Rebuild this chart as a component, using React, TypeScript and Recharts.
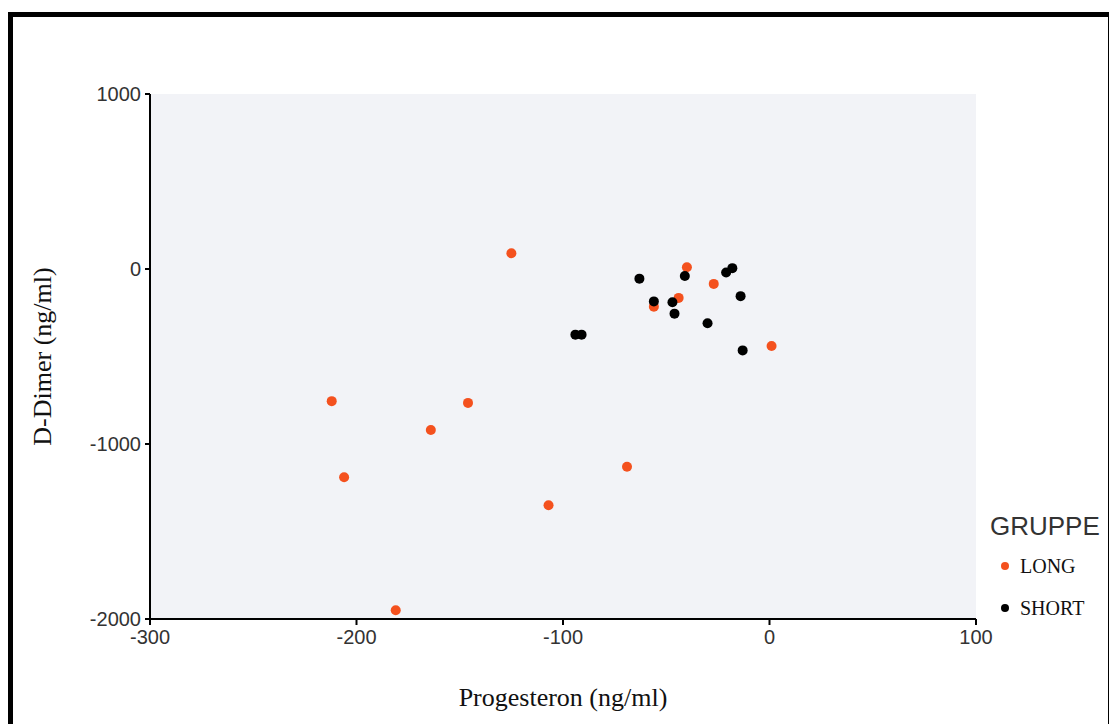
import React from 'react';
import { ScatterChart, Scatter, XAxis, YAxis, CartesianGrid } from 'recharts';

// --- axis ticks ---
const xTicks = [-300, -200, -100, 0, 100];
const yTicks = [-2000, -1000, 0, 1000];

// --- Progesteron (x) vs D-Dimer (y) per group ---
const longPoints = [
  { x: -125, y: 90 },
  { x: -40, y: 10 },
  { x: -27, y: -85 },
  { x: -44, y: -165 },
  { x: -56, y: -215 },
  { x: 1, y: -440 },
  { x: -212, y: -755 },
  { x: -146, y: -765 },
  { x: -164, y: -920 },
  { x: -206, y: -1190 },
  { x: -69, y: -1130 },
  { x: -107, y: -1350 },
  { x: -181, y: -1950 },
];

const shortPoints = [
  { x: -63, y: -55 },
  { x: -41, y: -40 },
  { x: -21, y: -20 },
  { x: -18, y: 5 },
  { x: -14, y: -155 },
  { x: -56, y: -185 },
  { x: -47, y: -190 },
  { x: -46, y: -255 },
  { x: -30, y: -310 },
  { x: -94, y: -375 },
  { x: -91, y: -375 },
  { x: -13, y: -465 },
];

const groups = [
  { name: 'LONG', color: '#f4511e', data: longPoints },
  { name: 'SHORT', color: '#000000', data: shortPoints },
];

const tickStyle = { fontSize: 20, fill: '#333', fontFamily: '"Liberation Sans", Arial, sans-serif' };
const serif = '"Liberation Serif", "Times New Roman", serif';

const dot = (color: string) => (props: any) => (
  <circle cx={props.cx} cy={props.cy} r={5} fill={color} stroke="none" />
);

export default function App() {
  return (
    <div style={{ position: 'absolute', left: 0, top: 0, width: 1109, height: 724, background: '#fff', overflow: 'hidden' }}>
      <div
        style={{
          position: 'absolute',
          left: 8,
          top: 12,
          width: 1101,
          height: 712,
          boxSizing: 'border-box',
          borderLeft: '5px solid #000',
          borderTop: '5px solid #000',
          borderRight: '1px solid #000',
        }}
      />
      <div style={{ position: 'absolute', left: 0, top: 0 }}>
        <ScatterChart width={1109} height={724} margin={{ top: 94, right: 133, bottom: 65, left: 80 }}>
          <CartesianGrid horizontal={false} vertical={false} fill="#f2f3f7" />
          <XAxis
            type="number"
            dataKey="x"
            domain={[-300, 100]}
            ticks={xTicks}
            height={40}
            axisLine={{ stroke: '#000', strokeWidth: 2 }}
            tickLine={{ stroke: '#000', strokeWidth: 2 }}
            tickSize={6}
            tickMargin={5}
            tick={tickStyle}
            label={{
              content: (p: any) => {
                const vb = p.viewBox || {};
                return (
                  <text x={vb.x + vb.width / 2} y={706} textAnchor="middle" fontFamily={serif} fontSize={26} fill="#111">
                    Progesteron (ng/ml)
                  </text>
                );
              },
            }}
          />
          <YAxis
            type="number"
            dataKey="y"
            domain={[-2000, 1000]}
            ticks={yTicks}
            width={70}
            axisLine={{ stroke: '#000', strokeWidth: 2 }}
            tickLine={{ stroke: '#000', strokeWidth: 2 }}
            tickSize={5}
            tickMargin={4}
            tick={tickStyle}
            label={{
              content: (p: any) => {
                const vb = p.viewBox || {};
                const cy = vb.y + vb.height / 2;
                return (
                  <text x={51} y={cy} textAnchor="middle" fontFamily={serif} fontSize={26} fill="#111" transform={`rotate(-90, 51, ${cy})`}>
                    D-Dimer (ng/ml)
                  </text>
                );
              },
            }}
          />
          {groups.map((g) => (
            <Scatter key={g.name} name={g.name} data={g.data} fill={g.color} shape={dot(g.color)} isAnimationActive={false} />
          ))}
        </ScatterChart>
      </div>
      <svg width={1109} height={724} style={{ position: 'absolute', left: 0, top: 0, pointerEvents: 'none' }}>
        <text x={990} y={535} fontFamily='"Liberation Sans", Arial, sans-serif' fontSize={26} fill="#333">
          GRUPPE
        </text>
        {groups.map((g, i) => (
          <g key={g.name}>
            <circle cx={1005} cy={566 + i * 42} r={4} fill={g.color} />
            <text x={1020} y={573 + i * 42} fontFamily={serif} fontSize={20} fill="#111">
              {g.name}
            </text>
          </g>
        ))}
      </svg>
    </div>
  );
}
